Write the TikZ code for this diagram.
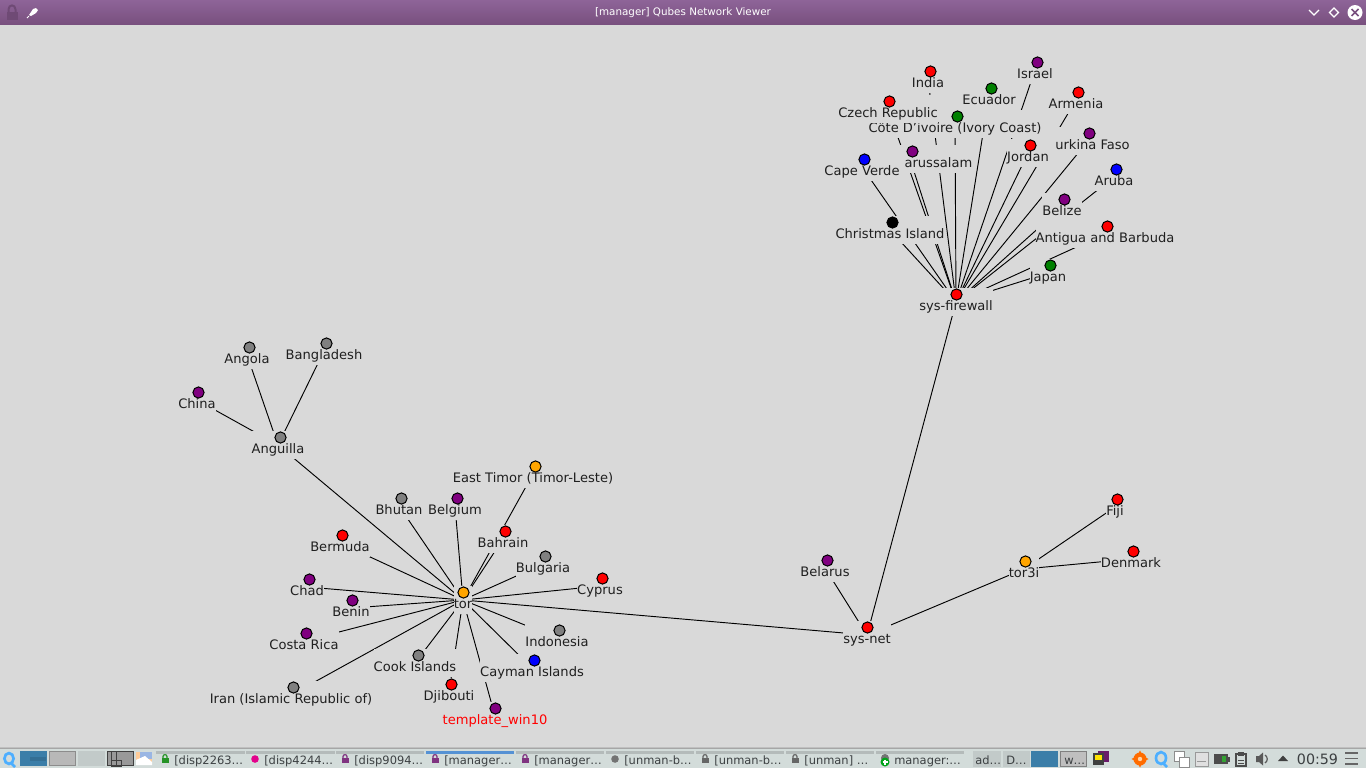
\documentclass[tikz,border=0pt]{standalone}
\usepackage{fontspec}
\setmainfont{DejaVu Sans}
\pgfdeclarelayer{bgl}
\pgfdeclarelayer{edges}
\pgfdeclarelayer{dots}
\pgfsetlayers{bgl,edges,main,dots}
\definecolor{canvasbg}{HTML}{D9D9D9}
\definecolor{titletop}{HTML}{8E6498}
\definecolor{titlebot}{HTML}{79507F}
\definecolor{barbg}{HTML}{D3DCDA}
\definecolor{tabtop}{HTML}{B4BBBA}
\definecolor{tabtxt}{HTML}{3C4042}
\definecolor{pagerblue}{HTML}{3B7EA8}
\definecolor{vmpurple}{HTML}{800080}
\definecolor{vmgray}{HTML}{808080}
\definecolor{vmgreen}{HTML}{008000}
\definecolor{vmorange}{HTML}{FFA500}
\tikzset{
  lbl/.style={anchor=base,fill=canvasbg,inner sep=0pt,text height=16.5pt,text depth=4.5pt,
    font=\fontsize{9.8}{12}\selectfont,text=black!88},
  vdot/.style={circle,draw=black,line width=0.75pt,minimum size=8.4pt,inner sep=0pt},
  link/.style={draw=black,line width=0.7pt},
  tabtext/.style={anchor=base west,inner sep=0pt,font=\fontsize{8.6}{11}\selectfont,text=tabtxt},
  tabstrip/.style={fill=tabtop,draw=none},
}
\newcommand{\vx}[7][black!88]{%
  \node[lbl,text=#1] (#2) at (#5,{#4+16}) {#6};
  \begin{pgfonlayer}{dots}\node[vdot,fill=#7] (#2-dot) at ({#3+0.5},{#4+0.5}) {};\end{pgfonlayer}}
\newcommand{\lk}[2]{\draw[link] (#1.center) -- (#2.center);}
\newcommand{\padlock}[3]{%
  \draw[#3,line width=0.9pt] (#1-2,#2) -- (#1-2,#2-1.5) .. controls (#1-2,#2-4) and (#1+2,#2-4) .. (#1+2,#2-1.5) -- (#1+2,#2);
  \fill[#3] (#1-3.5,#2) rectangle (#1+3.5,#2+5);}
\begin{document}
\begin{tikzpicture}[x=0.75pt,y=-0.75pt]
\useasboundingbox (0,0) rectangle (1366,768);
\begin{pgfonlayer}{bgl}
\fill[canvasbg] (0,0) rectangle (1366,768);
\shade[top color=titletop,bottom color=titlebot] (0,0) rectangle (1366,24);
\end{pgfonlayer}
% window title bar
\node[text=white,inner sep=0pt,font=\fontsize{7.76}{10}\selectfont] (title) at (683,13) {[manager] Qubes Network Viewer};
\draw[titlebot!92!black,line width=1.5pt] (8.5,12) -- (8.5,9.5) .. controls (8.5,4) and (15.5,4) .. (15.5,9.5) -- (15.5,12);
\fill[titlebot!92!black] (6.5,12) rectangle (17.5,20);
\fill[white] (29,15) -- (33,9) -- (36,8) -- (38,10) -- (36,13) -- (31,16) -- cycle;
\draw[white,line width=0.75pt] (29,16) -- (27,18);
\draw[white,line width=1pt] (1309,10) -- (1314,15) -- (1319,10);
\draw[white,line width=1pt] (1334,8) -- (1338.5,12.5) -- (1334,17) -- (1329.5,12.5) -- cycle;
\fill[white] (1355,12.5) circle[radius=7.5];
\draw[titlebot,line width=1.3pt] (1351.5,9) -- (1358.5,16) (1358.5,9) -- (1351.5,16);

% sys-firewall cluster
\vx{fw}{956}{294}{956}{sys-firewall}{red}
\vx{india}{930}{71}{928}{India}{red}
\vx{israel}{1037}{62}{1035}{Israel}{vmpurple}
\vx{ecuador}{991}{88}{989}{Ecuador}{vmgreen}
\vx{armenia}{1078}{92}{1076}{Armenia}{red}
\vx{burkina}{1089}{133}{1088}{\phantom{B}urkina Faso}{vmpurple}
\vx{brunei}{912}{151}{910}{\phantom{Brunei D}arussalam}{vmpurple}
\vx{cote}{957}{116}{955}{Côte D'ivoire (Ivory Coast)}{vmgreen}
\vx{czech}{889}{101}{888}{Czech Republic}{red}
\vx{jordan}{1030}{145}{1028}{Jordan}{red}
\vx{cape}{864}{159}{862}{Cape Verde}{blue}
\vx{aruba}{1116}{169}{1114}{Aruba}{blue}
\vx{belize}{1064}{199}{1062}{Belize}{vmpurple}
\vx{christmas}{892}{222}{890}{Christmas Island}{black}
\vx{antigua}{1107}{226}{1105}{Antigua and Barbuda}{red}
\vx{japan}{1050}{265}{1048}{Japan}{vmgreen}
% Anguilla cluster
\vx{anguilla}{280}{437}{278}{Anguilla}{vmgray}
\vx{china}{198}{392}{197}{China}{vmpurple}
\vx{angola}{249}{347}{247}{Angola}{vmgray}
\vx{bangla}{326}{343}{324}{Bangladesh}{vmgray}
% tor cluster
\vx{tor}{463}{592}{463}{tor}{vmorange}
\vx{timor}{535}{466}{533}{East Timor (Timor-Leste)}{vmorange}
\vx{bhutan}{401}{498}{399}{Bhutan}{vmgray}
\vx{belgium}{457}{498}{455}{Belgium}{vmpurple}
\vx{bahrain}{505}{531}{503}{Bahrain}{red}
\vx{bermuda}{342}{535}{340}{Bermuda}{red}
\vx{bulgaria}{545}{556}{543}{Bulgaria}{vmgray}
\vx{cyprus}{602}{578}{600}{Cyprus}{red}
\vx{chad}{309}{579}{307}{Chad}{vmpurple}
\vx{benin}{352}{600}{351}{Benin}{vmpurple}
\vx{costa}{306}{633}{304}{Costa Rica}{vmpurple}
\vx{indonesia}{559}{630}{557}{Indonesia}{vmgray}
\vx{cook}{418}{655}{415}{Cook Islands}{vmgray}
\vx{cayman}{534}{660}{532}{Cayman Islands}{blue}
\vx{iran}{293}{687}{291}{Iran (Islamic Republic of)}{vmgray}
\vx{djibouti}{451}{684}{449}{Djibouti}{red}
\vx[red]{template}{495}{708}{495}{template\_win10}{vmpurple}
% sys-net cluster
\vx{sysnet}{867}{627}{867}{sys-net}{red}
\vx{belarus}{827}{560}{825}{Belarus}{vmpurple}
\vx{torthree}{1025}{561}{1024}{tor3i}{vmorange}
\vx{fiji}{1117}{499}{1115}{Fiji}{red}
\vx{denmark}{1133}{551}{1131}{Denmark}{red}

\begin{pgfonlayer}{edges}
\foreach \n in {india,israel,ecuador,armenia,czech,burkina,brunei,cote,jordan,cape,aruba,belize,christmas,antigua,japan,sysnet}{\lk{fw}{\n}}
\foreach \n in {china,angola,bangla,tor}{\lk{anguilla}{\n}}
\foreach \n in {timor,bhutan,belgium,bahrain,bermuda,bulgaria,cyprus,chad,benin,costa,indonesia,cook,cayman,iran,djibouti,template,sysnet}{\lk{tor}{\n}}
\foreach \n in {belarus,torthree}{\lk{sysnet}{\n}}
\foreach \n in {fiji,denmark}{\lk{torthree}{\n}}
\end{pgfonlayer}

% task bar
\shade[top color=canvasbg,bottom color=black!45] (0,746) rectangle (1366,749);
\fill[barbg] (0,749) rectangle (1366,768);
% launcher Q
\draw[blue!45!cyan!70!white,line width=2pt] (9,758.5) ellipse[x radius=4.6,y radius=5.4];
\draw[blue!45!cyan!70!white,line width=2pt] (11,763) -- (15,767);
% pager
\fill[pagerblue] (20,751) rectangle (47,766);
\fill[pagerblue!88!black] (30,757) rectangle (46,761);
\fill[black!28] (49,751) rectangle (76,766);
\draw[black!45,line width=0.75pt] (49.5,751.5) rectangle (75.5,765.5);
\fill[barbg!92!black] (78,751) rectangle (105,766);
\fill[black!40] (107,751) rectangle (134,766);
\draw[black!75,line width=0.75pt] (107.5,751.5) rectangle (133.5,765.5) (111,751.5) rectangle (116,766) (111,760) rectangle (121,766);
\fill[orange!40] (136,752) rectangle (152,765);
\fill[cyan!50!blue!40] (140,752) rectangle (152,759);
\fill[white] (136,760) -- (145,756) -- (152,762) -- (152,765) -- (136,765) -- cycle;
% task buttons
\foreach \a/\b in {156/245,246/335,336/424,516/604,606/694,696/784,786/874,876/964}{\fill[tabstrip] (\a,751) rectangle (\b,753.5);}
\fill[cyan!55!blue!70] (426,751) rectangle (514,753.5);
\padlock{165}{758}{green!50!black!85}
\fill[magenta!95!blue] (255,759) circle[radius=3.8];
\padlock{345}{758}{vmpurple!60!gray}
\padlock{435}{758}{vmpurple!60!gray}
\padlock{525}{758}{vmpurple!60!gray}
\fill[black!55] (615,759) circle[radius=3.8];
\padlock{705}{758}{black!60}
\padlock{795}{758}{black!60}
\fill[black!55] (885,758) circle[radius=4];
\fill[green!60!black!90!cyan] (885,762) circle[radius=4.5];
\draw[white,line width=1pt] (882.5,762) -- (887.5,762) (885,759.5) -- (885,764.5);
\node[tabtext] (taba) at (174,764) {[disp2263…};
\node[tabtext] (tabb) at (264,764) {[disp4244…};
\node[tabtext] (tabc) at (354,764) {[disp9094…};
\node[tabtext] (tabd) at (444,764) {[manager…};
\node[tabtext] (tabe) at (534,764) {[manager…};
\node[tabtext] (tabf) at (624,764) {[unman-b…};
\node[tabtext] (tabg) at (714,764) {[unman-b…};
\node[tabtext] (tabh) at (804,764) {[unman] …};
\node[tabtext] (tabi) at (894,764) {manager:…};
\fill[black!8!barbg] (973,751) rectangle (1001,767);
\fill[black!8!barbg] (1003,751) rectangle (1030,767);
\fill[pagerblue] (1031,751) rectangle (1058,767);
\fill[black!25] (1060,751) rectangle (1087,767);
\draw[black!50,line width=0.75pt] (1060.5,751.5) rectangle (1086.5,766.5);
\node[tabtext] (tabj) at (975,764) {ad…};
\node[tabtext] (tabk) at (1006,764) {D…};
\node[tabtext] (tabl) at (1064,764) {w…};
% tray
\fill[vmpurple!70!black!90] (1098,751) rectangle (1109,762);
\fill[black!75] (1093,753) rectangle (1104,765);
\fill[yellow!85!orange] (1095,755) rectangle (1102,760);
\fill[orange!85!red] (1140,759) circle[radius=6.5];
\fill[orange!85!red] (1140,750.5) -- (1142.5,755) -- (1137.5,755) -- cycle (1140,767.5) -- (1142.5,763) -- (1137.5,763) -- cycle (1131.5,759) -- (1136,756.5) -- (1136,761.5) -- cycle (1148.5,759) -- (1144,756.5) -- (1144,761.5) -- cycle;
\fill[orange!35] (1140,759) circle[radius=2.2];
\draw[blue!45!cyan!70!white,line width=2pt] (1161,758) ellipse[x radius=5,y radius=6];
\draw[blue!45!cyan!70!white,line width=2pt] (1163,763) -- (1167,767);
\draw[black!45,fill=white,line width=0.75pt] (1174,751.5) rectangle (1184,761.5);
\draw[black!45,fill=white,line width=0.75pt] (1179,757.5) rectangle (1189,767);
\draw[black!40,fill=black!12,line width=0.75pt] (1195,752) rectangle (1208,766);
\draw[black!40,line width=0.75pt] (1197,761) -- (1206,761);
\fill[black!70] (1214,754) rectangle (1228,764);
\fill[black!70] (1228,756.5) rectangle (1229.5,761.5);
\fill[green!55!black!80] (1222,756) rectangle (1226,762);
\draw[black!70,fill=barbg,line width=1pt] (1236,754) rectangle (1246,766);
\fill[black!70] (1238,752) rectangle (1244,756);
\draw[black!70,line width=0.75pt] (1238,760) -- (1244,760) (1238,763) -- (1244,763);
\fill[black!65] (1256,756) -- (1259,756) -- (1263,752.5) -- (1263,765.5) -- (1259,762) -- (1256,762) -- cycle;
\draw[black!65,line width=0.9pt] (1265,755) .. controls (1268,757) and (1268,761) .. (1265,763);
\fill[black!75] (1283,755.5) -- (1288,761) -- (1278,761) -- cycle;
\node[anchor=base,inner sep=0pt,text=tabtxt,font=\fontsize{10.7}{13}\selectfont] (clock) at (1317.5,764.5) {00:59};
\draw[black!60,line width=1.3pt] (1345,753) -- (1358,753) (1345,758.5) -- (1358,758.5) (1345,764) -- (1358,764);
\end{tikzpicture}
\end{document}
